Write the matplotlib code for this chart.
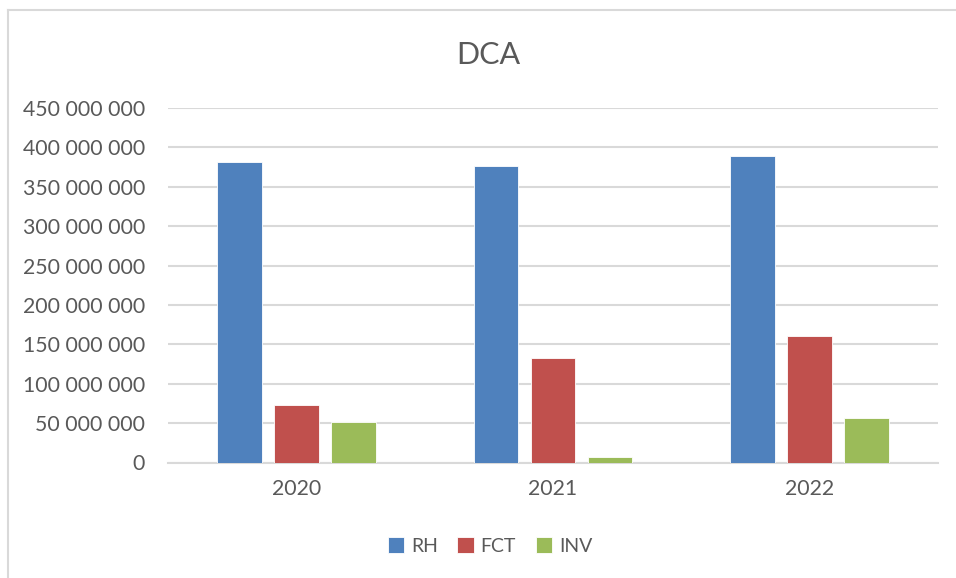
import matplotlib
matplotlib.use("Agg")
import matplotlib.pyplot as plt
from matplotlib.lines import Line2D
from matplotlib.ticker import FuncFormatter
import numpy as np

plt.rcParams['font.family'] = ['Lato', 'DejaVu Sans']

years = ["2020", "2021", "2022"]
series_names = ["RH", "FCT", "INV"]
rh = [381_500_000, 377_000_000, 388_500_000]
fct = [73_000_000, 133_000_000, 160_000_000]
inv = [52_000_000, 7_600_000, 57_000_000]
colors = ["#4F81BD", "#C0504D", "#9BBB59"]
y_ticks = list(range(0, 450_000_001, 50_000_000))

W, H = 956, 578
fig = plt.figure(figsize=(W / 100, H / 100), dpi=100)
ax = fig.add_axes([168 / W, 1 - 462.5 / H, 770 / W, (462.5 - 108) / H])

x = np.arange(len(years))
width = 0.175
offset = 0.222
for i, (vals, name, c) in enumerate(zip([rh, fct, inv], series_names, colors)):
    ax.bar(x + (i - 1) * offset, vals, width, color=c, label=name, zorder=3,
           edgecolor="white", linewidth=0.6)

ax.set_xlim(-0.5, 2.5)
ax.set_ylim(0, 450_000_000)
ax.set_yticks(y_ticks)
ax.yaxis.set_major_formatter(FuncFormatter(lambda v, p: f"{int(v):,}".replace(",", " ")))
ax.set_xticks(x)
ax.set_xticklabels(years)
ax.grid(axis="y", color="#D9D9D9", linewidth=1.5, zorder=0)
for s in ["top", "right", "left"]:
    ax.spines[s].set_visible(False)
ax.spines["bottom"].set_color("#D9D9D9")
ax.spines["bottom"].set_linewidth(1.5)
ax.tick_params(axis="both", length=0, labelsize=15.3, colors="#595959")
ax.tick_params(axis="y", pad=16.5)
ax.tick_params(axis="x", pad=12)

fig.text(488 / W, 1 - 55 / H, "DCA", ha="center", va="center", fontsize=22, color="#595959")

leg = fig.legend(loc="center", bbox_to_anchor=(490 / W, 1 - 546 / H), ncol=3, frameon=False,
                 fontsize=14, handlelength=0.85, handleheight=0.85, handletextpad=0.35,
                 columnspacing=1.0, labelcolor="#595959")

# chart border
fig.add_artist(Line2D([8 / W, 1], [1 - 10 / H, 1 - 10 / H], color="#D9D9D9", linewidth=1.5, transform=fig.transFigure))
fig.add_artist(Line2D([8 / W, 8 / W], [0, 1 - 10 / H], color="#D9D9D9", linewidth=1.5, transform=fig.transFigure))

fig.savefig("out.png", dpi=100, facecolor="white")
